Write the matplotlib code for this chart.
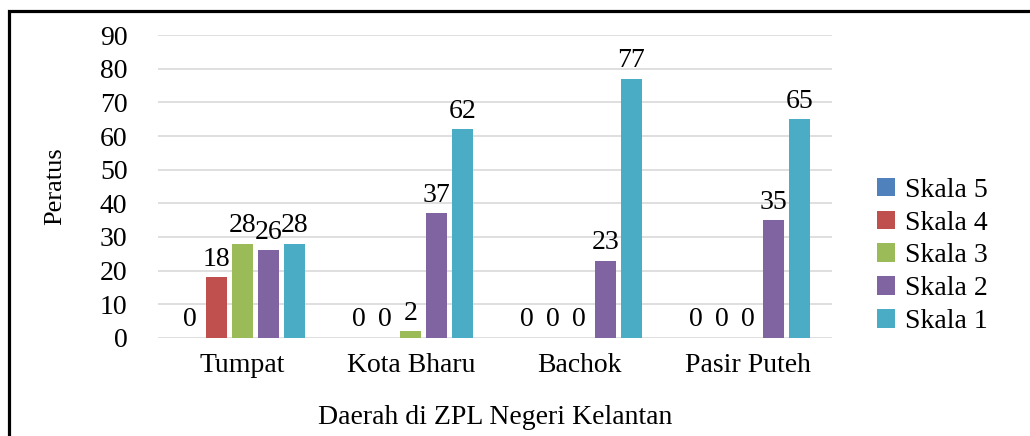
import matplotlib
matplotlib.use("Agg")
import matplotlib.pyplot as plt
from matplotlib.lines import Line2D
from matplotlib.patches import Patch
import numpy as np

categories = ["Tumpat", "Kota Bharu", "Bachok", "Pasir Puteh"]
series_names = ["Skala 5", "Skala 4", "Skala 3", "Skala 2", "Skala 1"]
skala5 = [0, 0, 0, 0]
skala4 = [18, 0, 0, 0]
skala3 = [28, 2, 0, 0]
skala2 = [26, 37, 23, 35]
skala1 = [28, 62, 77, 65]
yticks = [0, 10, 20, 30, 40, 50, 60, 70, 80, 90]
colors = ["#4F81BD", "#C0504D", "#9BBB59", "#8064A2", "#4BACC6"]

plt.rcParams["font.family"] = ["Liberation Serif", "DejaVu Serif"]
FS = 20

fig = plt.figure(figsize=(10.30, 4.36), dpi=100)
ax = fig.add_axes([0.1534, 0.2248, 0.8078 - 0.1534, 0.9197 - 0.2248])

values = [skala5, skala4, skala3, skala2, skala1]
x = np.arange(len(categories))
slot = 0.154
width = 0.125
for i, (name, vals, c) in enumerate(zip(series_names, values, colors)):
    pos = x + (i - 2) * slot
    ax.bar(pos, vals, width=width, color=c, zorder=3)
    for p, v in zip(pos, vals):
        ax.annotate(str(v), (p, v), xytext=(0, 4), textcoords="offset points",
                    ha="center", va="bottom", fontsize=FS, color="#000000", zorder=4)

ax.set_xlim(-0.5, len(categories) - 0.5)
ax.set_ylim(0, 90)
ax.set_yticks(yticks)
ax.set_yticklabels([str(t) for t in yticks], fontsize=FS)
ax.set_xticks(x)
ax.set_xticklabels(categories, fontsize=FS)
ax.tick_params(axis="x", length=0, pad=11)
ax.tick_params(axis="y", length=0, pad=22)
ax.grid(axis="y", color="#D9D9D9", linewidth=1.2, zorder=0)
ax.set_axisbelow(True)
for s in ax.spines.values():
    s.set_visible(False)

ax.set_ylabel("Peratus", fontsize=19, labelpad=24)
ax.set_xlabel("Daerah di ZPL Negeri Kelantan", fontsize=FS, labelpad=19)

handles = [Patch(facecolor=c, edgecolor="none") for c in colors]
fig.legend(handles, series_names, loc="center left", bbox_to_anchor=(0.838, 0.413),
           fontsize=FS, frameon=False, handlelength=0.65, handleheight=0.65,
           handletextpad=0.36, labelspacing=0.28, borderpad=0)

# outer frame (top and left edges visible)
top = 1 - 11 / 436
left = 9 / 1030
fig.add_artist(Line2D([left, left, 1.01], [-0.01, top, top], transform=fig.transFigure,
                      color="black", linewidth=2.3, solid_joinstyle="miter"))

fig.savefig("out.png", dpi=100, facecolor="white")
